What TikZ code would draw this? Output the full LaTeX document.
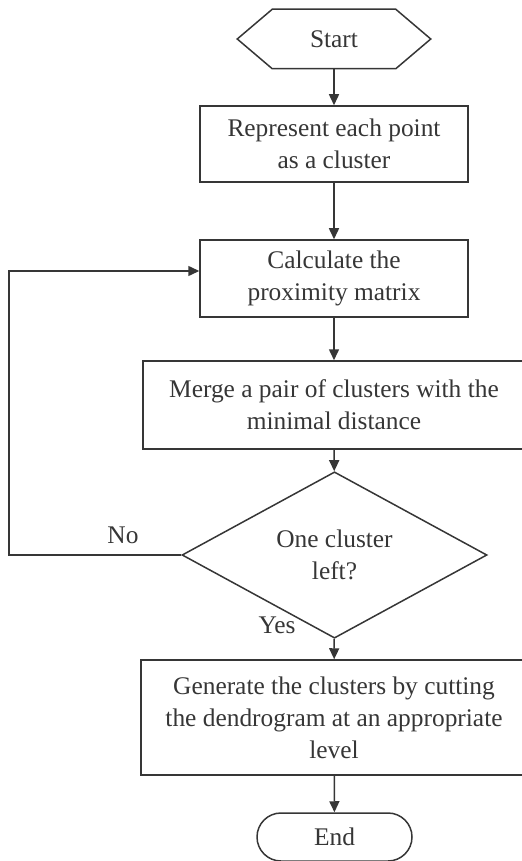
\documentclass[tikz,border=0pt]{standalone}
\usepackage{fontspec}
\setmainfont{Liberation Serif}
\usetikzlibrary{arrows.meta,shapes.geometric,shapes.misc}
\definecolor{ink}{HTML}{363636}

\begin{document}
\begin{tikzpicture}[
    x=0.5pt, y=-0.5pt,
    font=\fontsize{12.7}{16}\selectfont,
    text=ink,
    line width=0.75pt,
    box/.style={rectangle, draw=ink, align=center, inner sep=0pt},
    decision/.style={diamond, draw=ink, align=center, inner sep=0pt,
        minimum width=152.5pt, minimum height=67pt},
    stop/.style={rounded rectangle, draw=ink, inner sep=0pt,
        minimum width=77.5pt, minimum height=24pt},
    flow/.style={draw=ink, -{Triangle[length=5.5pt,width=5pt]}}
]

    \useasboundingbox (0,0) rectangle (521,861);

    % Nodes
    \node[inner sep=0pt, minimum width=96pt, minimum height=29pt] (start) at (334,39) {Start};
    \draw[ink] ([xshift=17.5pt]start.north west) -- ([xshift=-17.5pt]start.north east)
        -- (start.east) -- ([xshift=-17.5pt]start.south east)
        -- ([xshift=17.5pt]start.south west) -- (start.west) -- cycle;

    \node[box, minimum width=134pt, minimum height=38pt] (rep) at (334,144)
        {Represent each point\\as a cluster};
    \node[box, minimum width=134pt, minimum height=38.5pt] (prox) at (334,278.5)
        {Calculate the\\proximity matrix};
    \node[box, minimum width=191pt, minimum height=44pt] (merge) at (334,405)
        {Merge a pair of clusters with the\\minimal distance};
    \node[decision] (check) at (334.5,555) {One cluster\\left?};
    \node[box, minimum width=193pt, minimum height=57.5pt] (gen) at (334,717.5)
        {Generate the clusters by cutting\\the dendrogram at an appropriate\\level};
    \node[stop] (stop) at (334.5,837) {End};

    % Labels
    \node (nolabel) at (123,535) {No};
    \node (yeslabel) at (277,625) {Yes};

    % Connectors
    \coordinate (back) at (9,0);
    \draw[flow] (start) -- (rep);
    \draw[flow] (rep) -- (prox);
    \draw[flow] (prox) -- (merge);
    \draw[flow] (merge) -- (check);
    \draw[flow] (check) -- (gen);
    \draw[flow] (gen) -- (stop);
    \draw[flow] (check.west) -- (check.west -| back) |- ([yshift=3.75pt]prox.west);

\end{tikzpicture}
\end{document}
